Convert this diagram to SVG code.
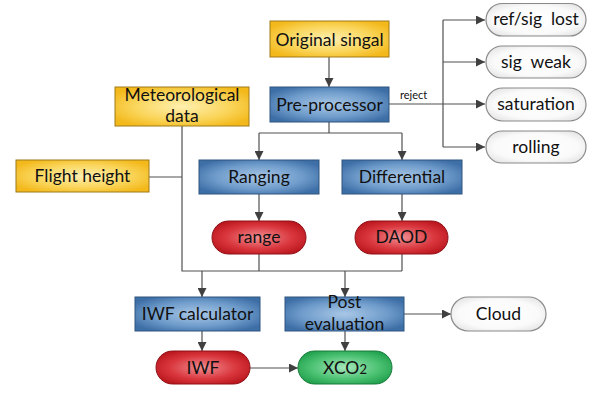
<svg xmlns="http://www.w3.org/2000/svg" width="599" height="394" viewBox="0 0 599 394">
<defs>
<radialGradient id="gy" cx="0.5" cy="0.5" r="0.6"><stop offset="0" stop-color="#FFF0B0"/><stop offset="0.6" stop-color="#FAD55A"/><stop offset="1" stop-color="#F3B81A"/></radialGradient>
<radialGradient id="gb" cx="0.5" cy="0.5" r="0.6"><stop offset="0" stop-color="#A9C7E6"/><stop offset="0.6" stop-color="#6F9CCB"/><stop offset="1" stop-color="#3D6EA6"/></radialGradient>
<radialGradient id="gr" cx="0.5" cy="0.5" r="0.6"><stop offset="0" stop-color="#F08E92"/><stop offset="0.6" stop-color="#D9363D"/><stop offset="1" stop-color="#B8141B"/></radialGradient>
<radialGradient id="gg" cx="0.5" cy="0.5" r="0.6"><stop offset="0" stop-color="#A6E6BC"/><stop offset="0.6" stop-color="#4CC273"/><stop offset="1" stop-color="#1E9E4A"/></radialGradient>
<radialGradient id="gw" cx="0.5" cy="0.5" r="0.6"><stop offset="0" stop-color="#FFFFFF"/><stop offset="0.7" stop-color="#FAFAFA"/><stop offset="1" stop-color="#E6E6E6"/></radialGradient>
<marker id="ar" viewBox="0 0 10 10" refX="10" refY="5" markerWidth="9" markerHeight="9" markerUnits="userSpaceOnUse" orient="auto"><path d="M0,0 L10,5 L0,10 z" fill="#404040"/></marker>
</defs>
<style>
.y{fill:url(#gy);stroke:#A07A1A;stroke-width:1}
.b{fill:url(#gb);stroke:#2E5580;stroke-width:1}
.r{fill:url(#gr);stroke:#8E1016;stroke-width:1}
.g{fill:url(#gg);stroke:#187A3A;stroke-width:1}
.w{fill:url(#gw);stroke:#8A8A8A;stroke-width:1.2}
text{font-family:Lato,"Open Sans","Liberation Sans",sans-serif;font-size:17.5px;fill:#111111;text-anchor:middle}
.c{fill:none;stroke:#505050;stroke-width:1.2}
.a{marker-end:url(#ar)}
.s{font-size:11px;text-anchor:start}
</style>
<rect width="599" height="394" fill="#FFFFFF"/>
<g id="connectors">
<path class="c a" d="M329,57 V87"/>
<path class="c" d="M389,104 H443"/>
<path class="c" d="M443,20 V147"/>
<path class="c a" d="M443,20 H485"/>
<path class="c a" d="M443,62 H485"/>
<path class="c a" d="M443,104 H485"/>
<path class="c a" d="M443,147 H485"/>
<text class="s" x="400" y="99">reject</text>
<path class="c" d="M329,122 V133 M259,133 H402"/>
<path class="c a" d="M259,133 V160"/>
<path class="c a" d="M402,133 V160"/>
<path class="c a" d="M259,194 V221"/>
<path class="c a" d="M402,194 V221"/>
<path class="c" d="M182,126 V271 H402 M149,177 H182 M259,254 V271 M402,254 V271"/>
<path class="c a" d="M202,271 V297"/>
<path class="c a" d="M345,271 V297"/>
<path class="c a" d="M202,331 V351"/>
<path class="c a" d="M345,331 V351"/>
<path class="c a" d="M404,314 H451"/>
<path class="c a" d="M250,368 H298"/>
</g>
<g id="original"><rect class="y" x="270" y="21" width="119" height="36"/><text x="329.5" y="45.5">Original singal</text></g>
<g id="preprocessor"><rect class="b" x="270" y="87" width="119" height="35"/><text x="329.5" y="110.5">Pre-processor</text></g>
<g id="meteo"><rect class="y" x="115" y="87" width="134" height="39"/><text x="182" y="101">Meteorological</text><text x="182" y="122">data</text></g>
<g id="flight"><rect class="y" x="16" y="160" width="133" height="32"/><text x="82.5" y="182">Flight height</text></g>
<g id="refsig"><rect class="w" x="486" y="3.5" width="100" height="32.5" rx="16.25"/><text x="536" y="25" xml:space="preserve">ref/sig  lost</text></g>
<g id="sigweak"><rect class="w" x="486" y="46" width="100" height="32" rx="16"/><text x="536" y="67.5" xml:space="preserve">sig  weak</text></g>
<g id="saturation"><rect class="w" x="486" y="88" width="100" height="33" rx="16.5"/><text x="536" y="110">saturation</text></g>
<g id="rolling"><rect class="w" x="486" y="131" width="100" height="32" rx="16"/><text x="536" y="152.5">rolling</text></g>
<g id="ranging"><rect class="b" x="199" y="160" width="120" height="34"/><text x="259" y="183">Ranging</text></g>
<g id="differential"><rect class="b" x="342" y="160" width="120" height="34"/><text x="402" y="183">Differential</text></g>
<g id="range"><rect class="r" x="212" y="221" width="94" height="33" rx="16.5"/><text x="259" y="243">range</text></g>
<g id="daod"><rect class="r" x="355" y="221" width="93" height="33" rx="16.5"/><text x="401.5" y="243">DAOD</text></g>
<g id="iwfcalc"><rect class="b" x="135" y="297" width="125" height="34"/><text x="197.5" y="320">IWF calculator</text></g>
<g id="post"><rect class="b" x="285" y="297" width="119" height="34"/><text x="344.5" y="308">Post</text><text x="344.5" y="330">evaluation</text></g>
<g id="cloud"><rect class="w" x="451" y="297" width="95" height="34" rx="17"/><text x="498.5" y="320">Cloud</text></g>
<g id="iwf"><rect class="r" x="156" y="351" width="94" height="33" rx="16.5"/><text x="203" y="373.5">IWF</text></g>
<g id="xco2"><rect class="g" x="298" y="351" width="94" height="33" rx="16.5"/><text x="345" y="373.5">XCO<tspan font-size="13">2</tspan></text></g>
</svg>
